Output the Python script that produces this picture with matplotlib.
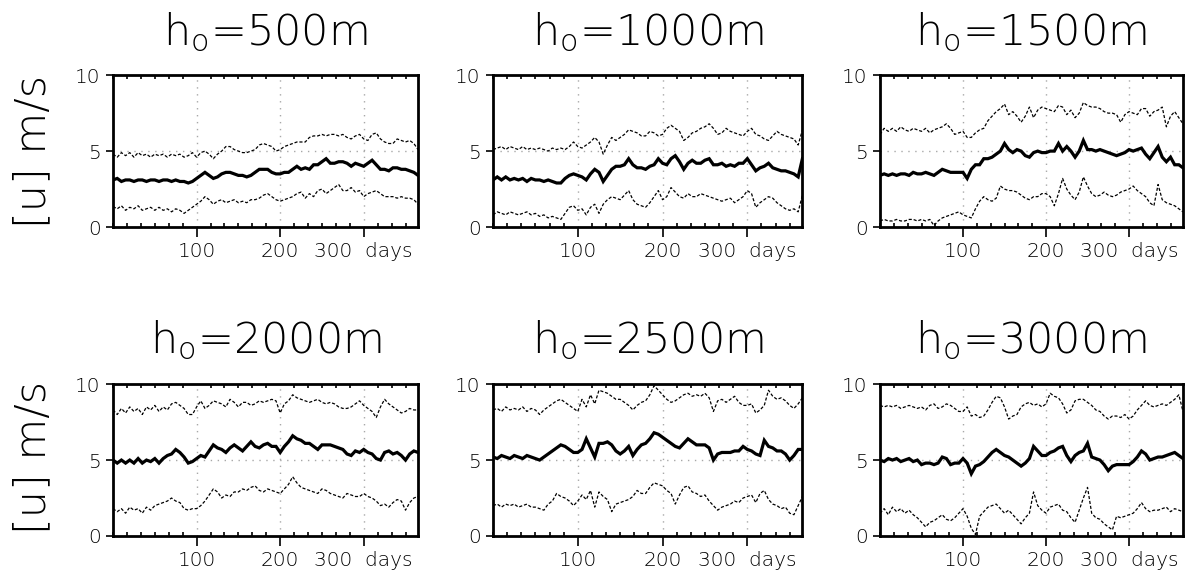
import numpy as np
import matplotlib
matplotlib.use('Agg')
import matplotlib.pyplot as plt
from matplotlib.ticker import MultipleLocator, FixedLocator

# days, every 5 days through the year
days = np.arange(0, 366, 5)

titles = ['500', '1000', '1500', '2000', '2500', '3000']

# h0 = 500 m
up_500 = [4.8, 4.6, 4.9, 4.7, 4.9, 4.6, 4.9, 4.7, 4.8, 4.6,
          4.8, 4.7, 4.8, 4.6, 4.8, 4.7, 4.8, 4.6, 4.7, 4.9,
          4.6, 4.9, 5.0, 4.8, 4.5, 4.8, 5.0, 5.3, 5.3, 5.1,
          5.0, 4.9, 4.9, 5.0, 5.1, 5.4, 5.5, 5.4, 5.3, 5.0,
          5.1, 5.3, 5.4, 5.5, 5.6, 5.6, 5.6, 5.9, 6.0, 6.0,
          6.1, 6.0, 6.1, 6.1, 6.0, 6.1, 5.9, 5.8, 6.0, 6.1,
          5.8, 5.7, 6.1, 6.2, 5.8, 5.6, 5.5, 5.5, 5.8, 5.7,
          5.6, 5.7, 5.5, 5.1]
mean_500 = [3.1, 3.2, 3.0, 3.1, 3.1, 3.0, 3.1, 3.1, 3.0, 3.1,
            3.1, 3.0, 3.1, 3.1, 3.0, 3.1, 3.0, 3.0, 2.9, 3.0,
            3.2, 3.4, 3.6, 3.4, 3.2, 3.3, 3.5, 3.6, 3.6, 3.5,
            3.4, 3.4, 3.3, 3.4, 3.6, 3.8, 3.8, 3.8, 3.6, 3.5,
            3.5, 3.6, 3.6, 3.8, 4.0, 3.8, 3.9, 3.8, 4.1, 4.1,
            4.3, 4.5, 4.2, 4.2, 4.3, 4.3, 4.2, 4.0, 4.2, 4.1,
            4.0, 4.2, 4.4, 4.1, 3.8, 3.8, 3.7, 3.9, 3.9, 3.8,
            3.8, 3.7, 3.6, 3.4]
low_500 = [1.35, 1.2, 1.4, 1.1, 1.3, 1.2, 1.4, 1.1, 1.2, 1.3,
           1.1, 1.3, 1.1, 1.2, 1.0, 1.2, 1.1, 0.9, 1.1, 1.3,
           1.5, 1.7, 2.0, 1.8, 1.5, 1.7, 1.8, 1.6, 1.7, 1.8,
           1.6, 1.7, 1.6, 1.8, 1.8, 1.9, 2.1, 2.2, 2.0, 1.8,
           1.7, 1.8, 1.9, 2.0, 2.2, 2.3, 1.9, 2.2, 2.0, 2.4,
           2.5, 2.2, 2.4, 2.6, 2.8, 2.4, 2.4, 2.6, 2.3, 2.4,
           2.0, 2.2, 2.3, 2.4, 2.2, 2.0, 2.0, 2.0, 1.9, 2.0,
           1.9, 1.9, 1.8, 1.5]

# h0 = 1000 m
up_1000 = [5.1, 5.2, 5.3, 5.1, 5.3, 5.2, 5.1, 5.3, 5.1, 5.2,
           5.1, 5.2, 5.1, 5.0, 5.2, 5.1, 5.2, 5.1, 5.3, 5.6,
           5.3, 5.2, 5.4, 5.6, 5.9, 5.6, 4.8, 5.4, 5.9, 5.7,
           5.9, 6.1, 6.4, 6.3, 6.2, 6.0, 6.0, 6.3, 6.2, 6.0,
           6.1, 6.5, 6.7, 6.5, 6.3, 5.7, 5.9, 6.2, 6.3, 6.5,
           6.6, 6.8, 6.5, 6.1, 6.2, 6.5, 6.3, 6.2, 6.1, 6.0,
           6.3, 6.5, 6.1, 6.0, 5.8, 5.7, 6.0, 6.3, 6.1, 6.0,
           5.9, 5.8, 5.4, 6.4]
mean_1000 = [3.1, 3.3, 3.1, 3.3, 3.1, 3.2, 3.1, 3.2, 3.0, 3.2,
             3.1, 3.1, 3.0, 3.1, 3.0, 2.9, 2.9, 3.2, 3.4, 3.5,
             3.4, 3.3, 3.1, 3.5, 3.8, 3.6, 3.0, 3.4, 3.8, 4.0,
             4.0, 4.1, 4.5, 4.1, 3.9, 3.9, 3.8, 4.0, 4.1, 4.5,
             4.2, 4.1, 4.5, 4.7, 4.3, 3.8, 4.2, 4.4, 4.2, 4.2,
             4.4, 4.5, 4.1, 4.1, 4.2, 4.0, 4.1, 4.0, 4.2, 4.2,
             4.5, 4.1, 3.7, 3.9, 4.0, 4.2, 3.9, 3.8, 3.7, 3.7,
             3.6, 3.5, 3.3, 4.5]
low_1000 = [0.8, 1.0, 0.9, 0.8, 1.0, 0.9, 0.8, 0.9, 1.0, 0.8,
            0.9, 0.7, 0.8, 0.6, 0.7, 0.6, 0.5, 0.9, 1.3, 1.4,
            1.1, 1.2, 0.8, 1.3, 1.5, 0.9, 1.5, 1.8, 2.0, 1.9,
            1.8, 2.1, 2.4, 1.8, 1.5, 1.4, 1.3, 1.6, 2.0, 2.4,
            1.8, 2.0, 2.6, 2.3, 2.0, 1.9, 2.2, 2.0, 2.0, 2.2,
            2.1, 2.0, 1.9, 1.8, 1.7, 1.8, 1.9, 1.6, 1.8, 2.0,
            2.4, 2.2, 1.3, 1.6, 1.8, 2.0, 1.9, 1.6, 1.4, 1.2,
            1.1, 1.2, 1.0, 2.1]

# h0 = 1500 m
up_1500 = [6.1, 6.5, 6.3, 6.5, 6.3, 6.6, 6.4, 6.3, 6.5, 6.4,
           6.3, 6.5, 6.2, 6.4, 6.5, 6.6, 6.8, 6.5, 6.1, 6.2,
           6.3, 5.9, 5.9, 6.2, 6.4, 6.5, 7.0, 7.3, 7.6, 7.8,
           8.1, 7.4, 7.6, 7.3, 6.9, 7.3, 7.9, 7.2, 7.7, 7.9,
           7.8, 7.7, 7.6, 8.0, 7.9, 7.4, 7.7, 7.2, 7.5, 8.2,
           8.0, 7.9, 7.9, 7.8, 7.6, 7.5, 7.5, 7.4, 6.9, 7.4,
           7.6, 7.5, 7.4, 7.8, 7.8, 7.3, 7.6, 7.7, 7.9, 6.6,
           7.3, 7.6, 7.2, 6.8]
mean_1500 = [3.4, 3.5, 3.4, 3.5, 3.4, 3.5, 3.5, 3.4, 3.6, 3.5,
             3.5, 3.6, 3.5, 3.4, 3.6, 3.8, 3.7, 3.6, 3.6, 3.6,
             3.6, 3.2, 3.8, 4.1, 4.1, 4.5, 4.5, 4.6, 4.8, 5.0,
             5.5, 5.1, 4.9, 5.1, 5.0, 4.7, 4.6, 4.9, 5.0, 4.9,
             4.9, 5.0, 5.0, 5.5, 5.0, 5.3, 5.0, 4.6, 5.0, 5.7,
             5.1, 5.1, 5.0, 5.1, 5.0, 4.9, 4.8, 4.7, 4.8, 4.9,
             5.1, 5.0, 5.1, 5.2, 4.8, 4.5, 4.9, 5.3, 4.6, 4.3,
             4.6, 4.1, 4.1, 3.9]
low_1500 = [0.4, 0.5, 0.4, 0.4, 0.5, 0.4, 0.4, 0.5, 0.5, 0.4,
            0.5, 0.4, 0.5, 0.1, 0.4, 0.6, 0.7, 0.8, 0.9, 1.0,
            0.8, 0.7, 0.6, 1.2, 1.7, 2.0, 1.8, 1.7, 1.9, 2.7,
            2.5, 2.4, 2.4, 2.3, 2.1, 1.9, 1.8, 2.0, 2.0, 2.2,
            2.2, 2.0, 1.4, 2.2, 3.2, 2.5, 2.1, 1.8, 2.3, 3.3,
            2.7, 2.2, 2.0, 2.1, 2.3, 2.1, 2.0, 2.1, 2.3, 2.4,
            2.5, 2.7, 2.4, 2.2, 2.0, 1.6, 1.4, 2.8, 1.8, 1.6,
            1.5, 1.4, 1.2, 1.0]

# h0 = 2000 m
up_2000 = [8.3, 8.0, 8.4, 8.1, 8.5, 8.2, 8.4, 8.0, 8.5, 8.3,
           8.6, 8.2, 8.5, 8.3, 8.7, 8.8, 8.6, 8.4, 8.0, 8.0,
           8.5, 8.9, 8.4, 8.6, 8.9, 8.8, 8.7, 8.5, 9.0, 8.8,
           8.5, 8.8, 8.8, 8.6, 8.7, 8.9, 8.8, 8.9, 9.0, 8.9,
           8.1, 8.7, 8.9, 9.3, 9.1, 9.0, 8.9, 8.8, 8.9, 9.0,
           8.8, 8.7, 8.8, 8.7, 8.5, 8.4, 8.4, 8.5, 8.7, 8.9,
           8.6, 8.4, 8.2, 7.8, 8.5, 9.0, 8.7, 8.5, 8.3, 8.1,
           8.2, 8.4, 8.3, 8.3]
mean_2000 = [5.0, 4.8, 5.0, 4.8, 5.0, 4.8, 5.1, 4.8, 5.0, 4.9,
             5.1, 4.8, 5.1, 5.3, 5.4, 5.7, 5.5, 5.2, 4.8, 4.9,
             5.1, 5.3, 5.2, 5.6, 6.0, 5.8, 5.7, 5.5, 5.8, 6.0,
             5.8, 5.6, 5.9, 6.2, 5.9, 5.8, 6.0, 6.1, 5.9, 5.9,
             5.5, 5.9, 6.2, 6.6, 6.4, 6.3, 6.1, 6.1, 5.9, 5.7,
             6.0, 6.0, 6.0, 5.9, 5.8, 5.7, 5.4, 5.3, 5.6, 5.5,
             5.7, 5.5, 5.4, 5.1, 5.0, 5.5, 5.6, 5.4, 5.5, 5.3,
             5.0, 5.4, 5.6, 5.5]
low_2000 = [1.8, 1.6, 1.8, 1.5, 1.9, 1.7, 1.8, 1.5, 1.9, 1.7,
            2.0, 2.1, 2.2, 2.3, 2.5, 2.3, 2.2, 1.8, 1.7, 1.8,
            1.8, 2.0, 2.3, 2.7, 3.1, 2.9, 2.5, 2.7, 2.6, 2.9,
            2.9, 3.1, 3.0, 3.2, 3.3, 3.0, 2.9, 3.1, 3.0, 2.9,
            2.8, 3.1, 3.4, 3.9, 3.5, 3.2, 3.1, 3.0, 2.9, 2.8,
            3.1, 3.0, 2.8, 2.7, 2.6, 2.5, 2.8, 2.7, 2.6, 2.6,
            2.8, 2.6, 2.5, 2.3, 2.0, 2.1, 1.9, 2.2, 2.4, 2.3,
            1.7, 2.2, 2.5, 2.6]

# h0 = 2500 m
up_2500 = [8.3, 8.4, 8.2, 8.5, 8.3, 8.4, 8.3, 8.5, 8.2, 8.4,
           8.3, 8.0, 8.3, 8.5, 8.7, 8.9, 9.0, 8.8, 8.6, 8.4,
           8.2, 9.0, 8.5, 9.3, 8.7, 9.6, 9.5, 9.4, 9.2, 9.0,
           9.0, 8.8, 8.6, 8.3, 8.6, 8.8, 8.9, 9.3, 9.9, 9.6,
           9.3, 9.0, 8.8, 8.9, 9.1, 9.3, 9.4, 9.2, 9.3, 9.2,
           9.4, 9.1, 8.2, 8.9, 9.0, 8.8, 9.0, 9.2, 8.8, 8.6,
           8.6, 8.7, 8.1, 8.3, 8.6, 9.6, 9.2, 9.0, 9.1, 8.9,
           8.6, 8.4, 8.7, 9.1]
mean_2500 = [5.2, 5.1, 5.3, 5.2, 5.1, 5.3, 5.2, 5.1, 5.3, 5.2,
             5.1, 5.0, 5.2, 5.4, 5.6, 5.8, 6.0, 5.9, 5.7, 5.5,
             5.5, 5.7, 6.4, 5.8, 5.2, 6.1, 6.1, 6.2, 6.0, 5.6,
             5.4, 5.6, 5.9, 5.3, 5.7, 6.0, 6.1, 6.4, 6.8, 6.7,
             6.5, 6.3, 6.1, 5.9, 5.8, 6.1, 6.4, 6.2, 6.0, 6.0,
             6.0, 5.8, 5.0, 5.4, 5.5, 5.5, 5.5, 5.6, 5.6, 5.9,
             5.7, 5.6, 5.4, 5.3, 6.3, 5.9, 5.8, 5.6, 5.6, 5.4,
             5.0, 5.3, 5.7, 5.7]
low_2500 = [2.0, 2.1, 1.9, 2.1, 2.0, 2.1, 1.9, 2.0, 2.1, 1.9,
            1.9, 1.8, 1.7, 2.1, 2.3, 2.8, 2.6, 2.5, 2.3, 2.0,
            2.3, 2.7, 2.4, 3.0, 1.9, 2.9, 2.6, 2.4, 1.6, 2.1,
            2.2, 2.3, 2.4, 2.6, 3.0, 2.8, 2.8, 3.2, 3.5, 3.4,
            3.3, 3.0, 2.8, 2.1, 2.7, 3.2, 3.3, 2.9, 2.8, 2.6,
            2.7, 2.3, 2.0, 1.7, 1.9, 2.0, 2.1, 2.3, 2.2, 2.5,
            2.6, 2.7, 2.2, 2.8, 3.0, 2.4, 2.1, 2.0, 1.8, 1.9,
            1.5, 1.4, 2.0, 2.6]

# h0 = 3000 m
up_3000 = [8.6, 8.5, 8.6, 8.5, 8.6, 8.4, 8.5, 8.6, 8.5, 8.4,
           8.5, 8.3, 8.6, 8.7, 8.4, 8.5, 8.7, 8.6, 8.4, 8.2,
           8.2, 8.5, 7.9, 8.0, 7.8, 7.9, 8.3, 8.8, 9.2, 9.1,
           8.5, 7.7, 7.9, 8.0, 8.5, 8.7, 8.8, 8.6, 8.7, 8.5,
           8.7, 9.4, 9.2, 9.1, 8.7, 8.1, 8.3, 8.9, 9.0, 9.0,
           8.8, 8.6, 8.3, 8.2, 7.9, 7.7, 7.9, 7.9, 7.8, 8.0,
           7.7, 7.9, 8.3, 8.6, 8.9, 8.6, 8.5, 8.6, 8.7, 8.6,
           8.8, 9.0, 9.3, 8.2]
mean_3000 = [5.0, 4.9, 5.1, 5.0, 5.1, 4.9, 5.0, 5.1, 4.9, 5.0,
             4.7, 4.8, 4.8, 4.7, 4.8, 5.2, 5.1, 4.7, 4.8, 4.8,
             5.1, 4.8, 4.1, 4.6, 4.7, 4.9, 5.2, 5.5, 5.7, 5.5,
             5.3, 5.2, 5.0, 4.8, 4.6, 4.8, 5.1, 5.9, 5.6, 5.3,
             5.3, 5.5, 5.6, 5.8, 5.9, 5.3, 4.9, 5.3, 5.5, 5.6,
             6.1, 5.2, 5.1, 5.0, 4.7, 4.3, 4.6, 4.7, 4.7, 4.7,
             4.7, 4.9, 5.2, 5.6, 5.4, 5.0, 5.1, 5.2, 5.2, 5.3,
             5.4, 5.5, 5.3, 5.1]
low_3000 = [1.5, 1.8, 1.4, 1.9, 1.6, 1.8, 1.5, 1.7, 1.4, 1.2,
            0.9, 0.6, 0.9, 1.0, 1.2, 1.4, 1.1, 1.0, 1.2, 1.5,
            1.8, 1.3, 0.5, 0.1, 1.3, 1.6, 1.9, 2.0, 2.1, 1.8,
            1.5, 1.7, 1.4, 1.1, 0.8, 1.2, 1.5, 2.9, 2.0, 1.7,
            1.5, 1.9, 2.0, 2.1, 1.7, 1.6, 1.2, 0.9, 1.7, 2.5,
            3.2, 1.5, 1.2, 1.1, 0.8, 0.6, 0.4, 1.3, 1.2, 1.3,
            1.4, 1.5, 1.8, 2.2, 1.8, 1.6, 1.7, 1.7, 1.8, 1.9,
            1.6, 1.8, 1.7, 1.6]

series = [(up_500, mean_500, low_500), (up_1000, mean_1000, low_1000),
          (up_1500, mean_1500, low_1500), (up_2000, mean_2000, low_2000),
          (up_2500, mean_2500, low_2500), (up_3000, mean_3000, low_3000)]

xticks = [100, 200, 300]
xticklabels = ['100', '200', '300  days']
yticks = [0, 5, 10]

plt.rcParams['font.family'] = ['DejaVu Sans']
plt.rcParams['mathtext.fontset'] = 'dejavusans'

fig = plt.figure(figsize=(11.9, 5.73), dpi=100)

lefts = [0.095, 0.4143, 0.7395]
widths = [0.2563, 0.26, 0.2546]
bottoms = [0.6038, 0.0646]
height = 0.265

for i, (up, mean, low) in enumerate(series):
    r, c = divmod(i, 3)
    ax = fig.add_axes([lefts[c], bottoms[r], widths[c], height])

    ax.plot(days, up, color='black', lw=0.9, ls=(0, (2.5, 1.5)))
    ax.plot(days, low, color='black', lw=0.9, ls=(0, (2.5, 1.5)))
    ax.plot(days, mean, color='black', lw=2.3, solid_joinstyle='miter')

    ax.set_xlim(0, 365)
    ax.set_ylim(0, 10)

    for x in xticks:
        ax.axvline(x, color='#a8a8a8', lw=1, ls=(0, (1, 4)), zorder=0)
    ax.axhline(5, color='#a8a8a8', lw=1, ls=(0, (1, 4)), zorder=0)

    ax.set_xticks(xticks)
    ax.set_xticklabels(xticklabels)
    ax.set_yticks(yticks)
    ax.xaxis.set_minor_locator(MultipleLocator(100 / 6))
    ax.tick_params(axis='x', which='major', direction='out', length=7,
                   width=1.2, labelsize=14.5, pad=4, top=False)
    ax.tick_params(axis='x', which='minor', direction='in', length=3,
                   width=1.2, top=True, bottom=True)
    ax.tick_params(axis='y', which='major', direction='out', length=5,
                   width=1.2, labelsize=14.5, pad=4, right=False)
    for lab in ax.get_xticklabels() + ax.get_yticklabels():
        lab.set_fontweight('light')

    for sp in ax.spines.values():
        sp.set_linewidth(2.0)

    ax.set_title(r'h$_{\mathregular{o}}$=' + titles[i] + 'm', fontsize=31,
                 fontweight='light', pad=22)

fig.text(33 / 1190, 0.735, '[u] m/s', rotation=90, ha='center', va='center',
         fontsize=31, fontweight='light')
fig.text(33 / 1190, 0.2025, '[u] m/s', rotation=90, ha='center', va='center',
         fontsize=31, fontweight='light')

fig.savefig('out.png', dpi=100)
